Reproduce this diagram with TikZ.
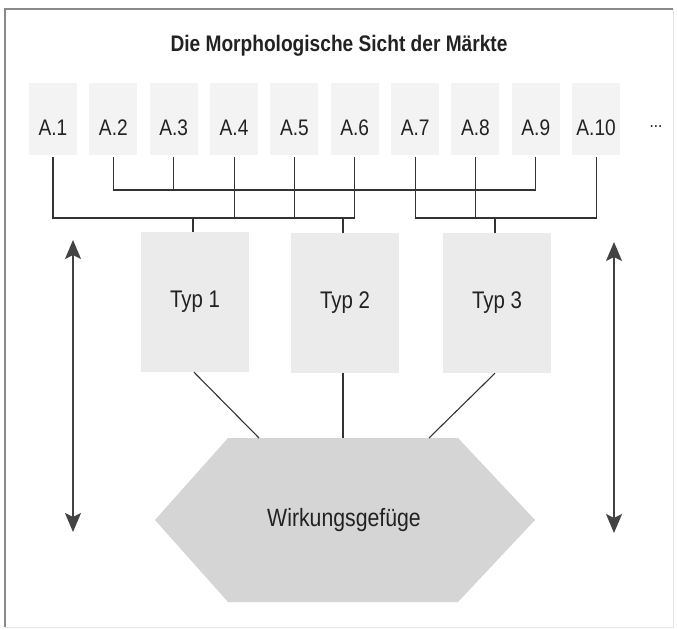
\documentclass[tikz,border=0pt]{standalone}
\usepackage{fontspec}
\setmainfont[FakeStretch=0.85]{Liberation Sans}
\usetikzlibrary{arrows.meta}
\definecolor{ink}{HTML}{222222}
\definecolor{wire}{HTML}{333333}
\definecolor{boxa}{HTML}{F3F3F3}
\definecolor{boxt}{HTML}{EBEBEB}
\definecolor{hexfill}{HTML}{D5D5D5}
\definecolor{framedark}{HTML}{8A8A8A}
\definecolor{framelight}{HTML}{E4E4E4}
\tikzset{
  abox/.style={fill=boxa, draw=none, minimum width=48pt, minimum height=72pt, inner sep=0pt},
  alab/.style={text=ink, font=\fontsize{22.5}{26}\selectfont, inner sep=0pt},
  tbox/.style={fill=boxt, draw=none, minimum width=108pt, minimum height=140pt, inner sep=0pt,
    text=ink, font=\fontsize{24}{27}\selectfont},
  conn/.style={draw=wire, line width=1.1pt},
  vert/.style={draw=ink!85, line width=1.5pt, {Stealth[length=19pt,width=16pt,inset=4pt]}-{Stealth[length=19pt,width=16pt,inset=4pt]}},
}
\begin{document}
\begin{tikzpicture}[x=1pt, y=-1pt]
\useasboundingbox (0,0) rectangle (677,629);
\fill[white] (0,0) rectangle (677,629);

% frame
\draw[framelight, line width=1pt] (673,9) -- (673,627) -- (5,627);
\draw[framedark, line width=1.2pt] (5,627) -- (5,9) -- (673,9);

% title
\node[text=ink, font=\bfseries\fontsize{22.5}{26}\selectfont] (title) at (339,46) {Die Morphologische Sicht der Märkte};

% characteristic boxes A.1 ... A.10
\foreach \i in {1,...,10} {
  \node[abox] (a\i) at ({53+60.35*(\i-1)},119) {};
  \node[alab] (la\i) at ([yshift=-9pt]a\i.center) {A.\i};
}
\node[text=ink, font=\fontsize{18}{20}\selectfont] (more) at (656,127) {...};

% bus levels
\coordinate (up) at (0,190);
\coordinate (low) at (0,218);

% upper bus: A.2 ... A.9
\draw[conn, shorten <=2pt] (a2.south) -- (a2.south |- up) -- (a9.south |- up) -- ([yshift=-2pt]a9.south);
\draw[conn, shorten <=2pt] (a3.south) -- (a3.south |- up);

% left lower bus: A.1 ... A.6
\draw[conn, shorten <=2pt] (a1.south) -- (a1.south |- low) -- (a6.south |- low) -- ([yshift=-2pt]a6.south);
\draw[conn, shorten <=2pt] (a4.south) -- (a4.south |- low);
\draw[conn, shorten <=2pt] (a5.south) -- (a5.south |- low);

% right lower bus: A.7 ... A.10
\draw[conn, shorten <=2pt] (a7.south) -- (a7.south |- low) -- (a10.south |- low) -- ([yshift=-2pt]a10.south);
\draw[conn, shorten <=2pt] (a8.south) -- (a8.south |- low);

% types
\node[tbox] (t1) at (195,302) {Typ 1};
\node[tbox] (t2) at (345,303) {Typ 2};
\node[tbox] (t3) at (497,303) {Typ 3};

\draw[conn] ([xshift=-2pt]t1.north) -- ([xshift=-2pt]t1.north |- low);
\draw[conn] ([xshift=-2pt]t2.north) -- ([xshift=-2pt]t2.north |- low);
\draw[conn] ([xshift=-2pt]t3.north) -- ([xshift=-2pt]t3.north |- low);

% hexagon
\fill[hexfill] (228,438) -- (458,438) -- (535,520) -- (458,602) -- (228,602) -- (155,520) -- cycle;
\node[text=ink, font=\fontsize{25}{28}\selectfont] (w) at (344,520) {Wirkungsgefüge};
\coordinate (w1) at (259,438);
\coordinate (w2) at (343,438);
\coordinate (w3) at (429,438);

\draw[conn] ([xshift=-1pt]t1.south) -- (w1);
\draw[conn] ([xshift=-2pt]t2.south) -- (w2);
\draw[conn] ([xshift=-2pt]t3.south) -- (w3);

% vertical arrows
\coordinate (lt) at (73,240);
\coordinate (lb) at (73,532);
\coordinate (rt) at (614,242);
\coordinate (rb) at (614,533);
\draw[vert] (lt) -- (lb);
\draw[vert] (rt) -- (rb);
\end{tikzpicture}
\end{document}
